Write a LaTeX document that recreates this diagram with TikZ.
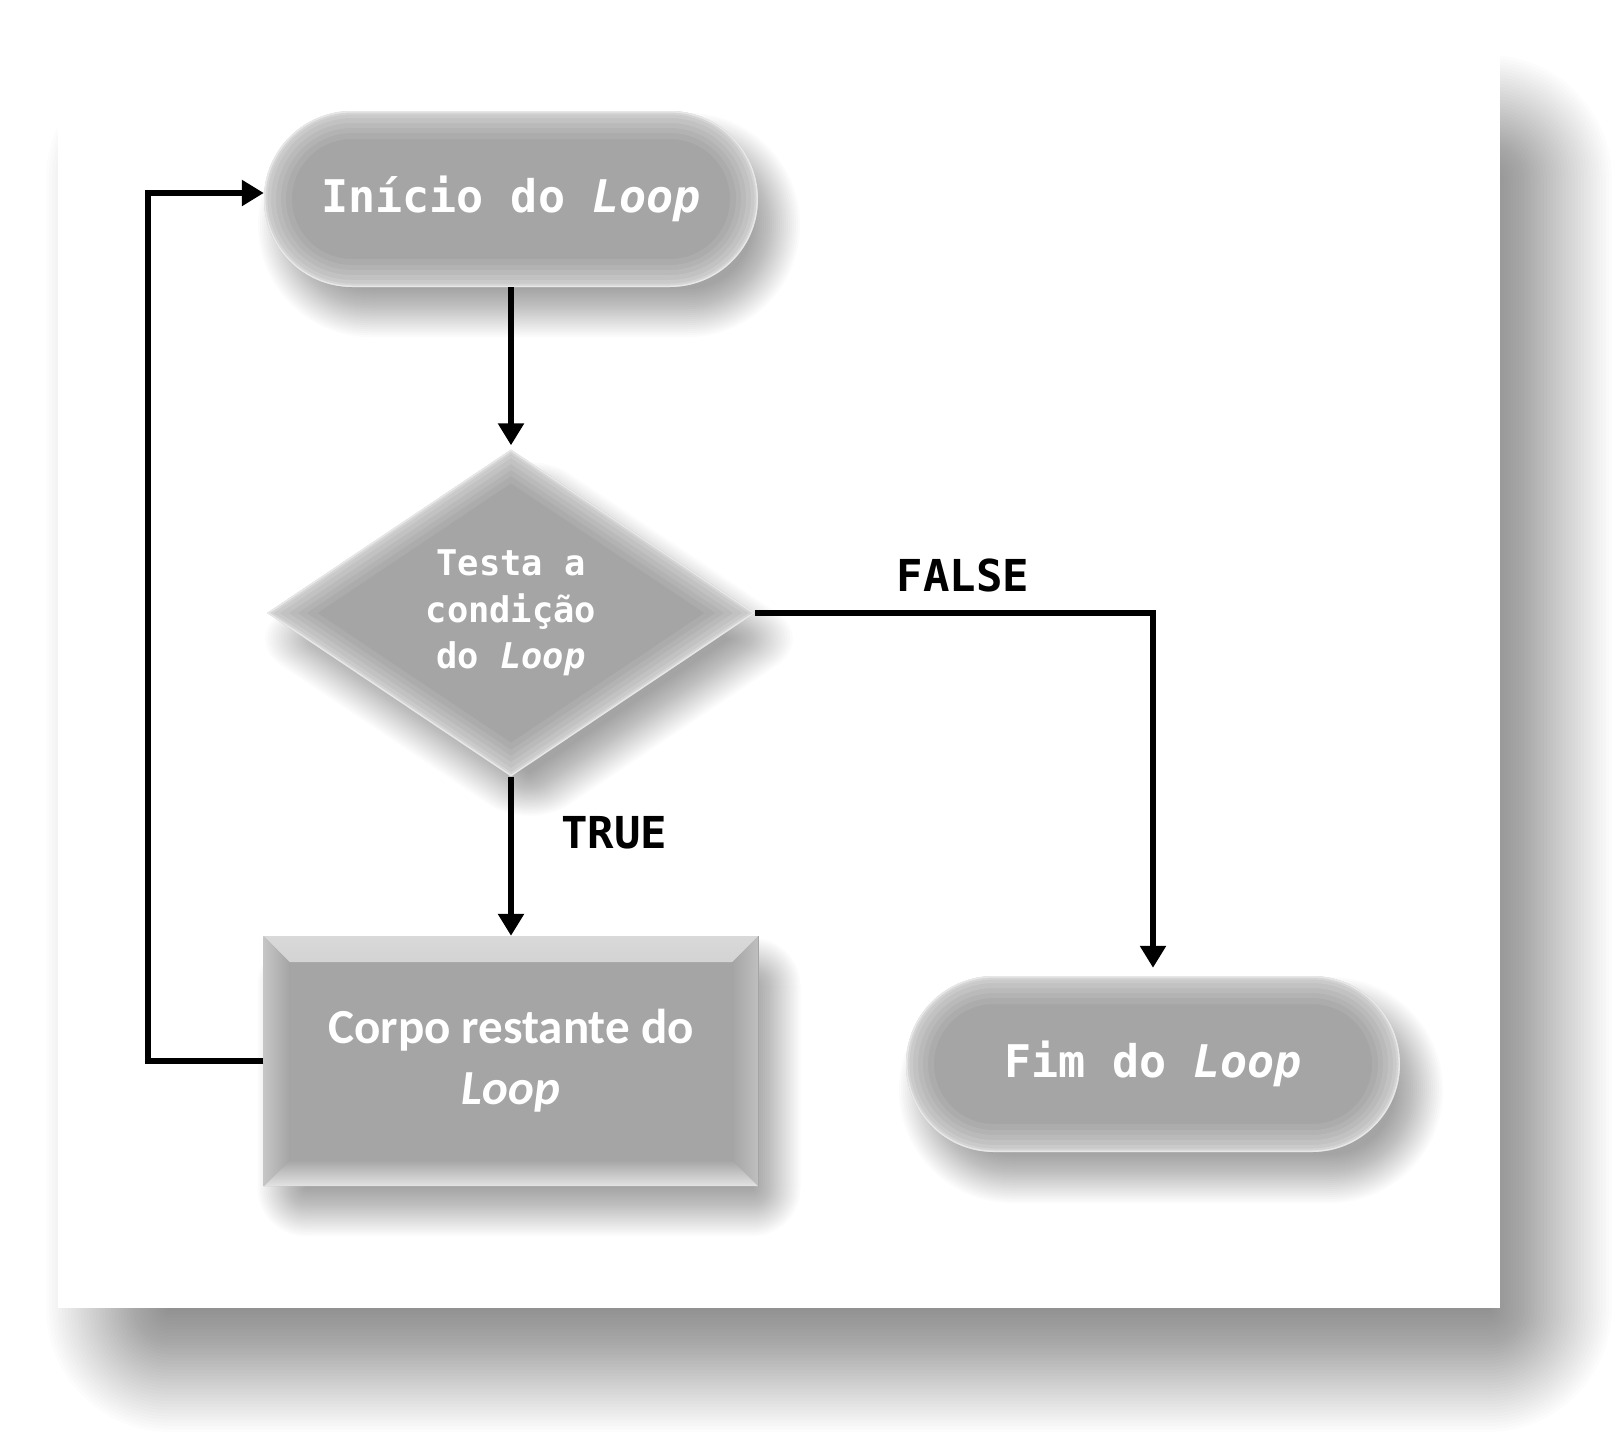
\documentclass[tikz,border=0pt]{standalone}
\usepackage{fontspec}
\setmainfont{Carlito}
\newfontfamily\monof{DejaVu Sans Mono}
\usetikzlibrary{shapes.geometric, arrows.meta}
\definecolor{boxgray}{RGB}{165,165,165}
% soft shadow of a (rounded) rectangle: x0 y0 x1 y1 blur steps alpha basecorner
\newcommand\softrect[8]{%
  \foreach \i in {0,...,#6}{%
    \pgfmathsetmacro\dd{-#5+2*#5*\i/#6}%
    \pgfmathsetmacro\rc{max(#8-\dd,0)}%
    \fill[black,opacity=#7,rounded corners=\rc pt] (#1+\dd,#2+\dd) rectangle (#3-\dd,#4-\dd);
  }}
\begin{document}
\begin{tikzpicture}[x=1pt,y=-1pt,
  rglow/.style={path picture={
    \foreach \w/\o in {56/.08,44/.09,34/.10,24/.12,14/.14,7/.2,3/.45}{
      \draw[white,opacity=\o,line width=\w pt,rounded corners=#1]
        (path picture bounding box.south west) rectangle (path picture bounding box.north east);}
  }},
  dglow/.style={path picture={
    \foreach \w/\o in {56/.08,44/.09,34/.10,24/.12,14/.14,7/.2,3/.45}{
      \draw[white,opacity=\o,line width=\w pt,line join=miter]
        (path picture bounding box.north) -- (path picture bounding box.east) --
        (path picture bounding box.south) -- (path picture bounding box.west) -- cycle;}
  }},
  bevel/.style={path picture={
    \fill[top color=gray!30, bottom color=boxgray]
      (path picture bounding box.north west) -- (path picture bounding box.north east) --
      ([xshift=-26pt,yshift=-26pt]path picture bounding box.north east) --
      ([xshift=26pt,yshift=-26pt]path picture bounding box.north west) -- cycle;
    \fill[top color=boxgray, bottom color=gray!22]
      (path picture bounding box.south west) -- (path picture bounding box.south east) --
      ([xshift=-26pt,yshift=26pt]path picture bounding box.south east) --
      ([xshift=26pt,yshift=26pt]path picture bounding box.south west) -- cycle;
    \fill[left color=gray!45, right color=boxgray]
      (path picture bounding box.north west) -- ([xshift=26pt,yshift=-26pt]path picture bounding box.north west) --
      ([xshift=26pt,yshift=26pt]path picture bounding box.south west) --
      (path picture bounding box.south west) -- cycle;
    \fill[left color=boxgray, right color=gray!50]
      (path picture bounding box.north east) -- ([xshift=-26pt,yshift=-26pt]path picture bounding box.north east) --
      ([xshift=-26pt,yshift=26pt]path picture bounding box.south east) --
      (path picture bounding box.south east) -- cycle;
  }},
  term/.style={rectangle, rounded corners=88pt, fill=boxgray, rglow=88pt,
    minimum width=494pt, minimum height=176pt, inner sep=0pt, text=white,
    font=\monof\bfseries\fontsize{45}{54}\selectfont},
  decis/.style={diamond, aspect=1.49, fill=boxgray, dglow,
    minimum width=488pt, minimum height=327pt, inner sep=0pt, text=white, align=center,
    font=\monof\bfseries\fontsize{35.4}{46.5}\selectfont},
  procbox/.style={rectangle, fill=boxgray, bevel,
    minimum width=495pt, minimum height=250pt, inner sep=0pt, text=white, align=center,
    font=\bfseries\fontsize{49}{61}\selectfont},
  lbl/.style={inner sep=0pt, text=black, font=\monof\bfseries\fontsize{44}{52}\selectfont},
  conn/.style={line width=6pt, -{Triangle[length=22pt,width=25pt]}}
]
\useasboundingbox (0,0) rectangle (1621,1438);
\fill[white] (0,0) rectangle (1621,1438);
% panel shadow and panel
\softrect{108}{117}{1550}{1370}{62}{40}{0.0111}{62}
\fill[white] (58,55) rectangle (1500,1308);
% node shadows
\softrect{282}{137}{776}{313}{24}{24}{0.0148}{88}
\softrect{923}{1001}{1419}{1179}{24}{24}{0.0148}{89}
\softrect{281.5}{962}{776.5}{1212}{24}{24}{0.0148}{24}
\foreach \i in {0,...,24}{%
  \pgfmathsetmacro\dd{-24+48*\i/24}%
  \pgfmathsetmacro\aa{244-\dd*1.796}%
  \pgfmathsetmacro\bb{163.5-\dd*1.204}%
  \pgfmathsetmacro\rc{max(24-\dd,0)}%
  \fill[black,opacity=0.0148,rounded corners=\rc pt] (529-\aa,639) -- (529,639-\bb) -- (529+\aa,639) -- (529,639+\bb) -- cycle;
}

\node[term] (start) at (511,199) {Início do \textit{Loop}};
\node[decis] (dec) at (511,613) {Testa a\\condição\\do \textit{Loop}};
\node[procbox] (body) at (511,1061) {Corpo restante do\\\textit{Loop}};
\node[term] (end) at (1153,1064) {Fim do \textit{Loop}};

\node[lbl] (ltrue) at (614,833) {TRUE};
\node[lbl] (lfalse) at (963,575) {FALSE};

\draw[conn, shorten >=4pt] (start.south) -- (dec.north);
\draw[conn] (dec.south) -- (body.north);
\draw[conn, shorten >=8pt] (dec.east) -| (end.north);
\draw[conn] (body.west) -- ++(-115,0) |- ([yshift=6pt]start.west);
\end{tikzpicture}
\end{document}
